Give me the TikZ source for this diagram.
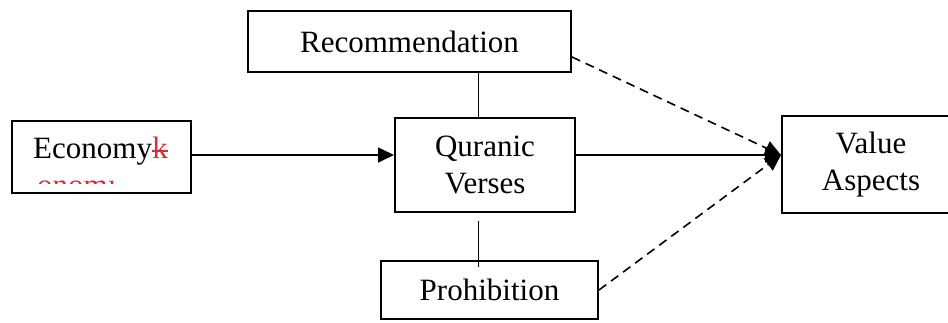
\documentclass[tikz,border=0pt]{standalone}
\usepackage{fontspec}
\setmainfont{Liberation Serif}
\usetikzlibrary{arrows.meta,calc}
\definecolor{wordred}{RGB}{215,45,55}
\begin{document}
\begin{tikzpicture}[x=1pt,y=-1pt,
  font=\fontsize{31pt}{37pt}\selectfont,
  box/.style={draw,line width=2pt,inner sep=0pt,align=center},
  solidarrow/.style={line width=1.6pt,-{Triangle[length=16pt,width=15pt]}},
  dasharrow/.style={line width=1.6pt,dash pattern=on 9pt off 6pt,-{Triangle[length=16pt,width=15pt]}},
  thinline/.style={line width=1pt}]
\useasboundingbox (0,0) rectangle (948,322);
\fill[white] (0,0) rectangle (948,322);
\clip (0,0) rectangle (948,322);
% boxes
\node[box,minimum width=323pt,minimum height=61pt] (rec) at (409.5,41.5) {Recommendation};
\node[box,minimum width=179pt,minimum height=72pt] (eco) at (101.5,157) {};
\node[box,minimum width=180pt,minimum height=94pt] (qv) at (485,165) {Quranic\\Verses};
\node[box,minimum width=178pt,minimum height=97pt] (va) at (871,164.5) {Value\\Aspects};
\node[box,minimum width=217pt,minimum height=58pt] (pro) at (489.5,290) {Prohibition};
% Economy text
\node[anchor=base west,inner sep=0pt] (ecotext) at (33,158) {Economy};
\node[anchor=base west,inner sep=0pt,text=wordred] (ecok) at (ecotext.base east) {k};
\draw[wordred,line width=1.2pt] ([yshift=7pt]ecok.base west) -- ([yshift=7pt]ecok.base east);
\begin{scope}
  \clip (30,179.5) rectangle (185,183.5);
  \node[anchor=base west,inner sep=0pt,text=wordred] (onomi) at (37,195.5) {onomi};
\end{scope}
% connectors
\coordinate (tip) at ([yshift=9.5pt]va.west);
\draw[solidarrow] ([yshift=2pt]eco.east) -- ([yshift=10pt]qv.west);
\draw[solidarrow] ([yshift=10pt]qv.east) -- (tip);
\draw[dasharrow] ([yshift=-15.5pt]rec.east) -- (tip);
\draw[dasharrow] (pro.east) -- (tip);
\draw[thinline] ([xshift=-7pt]qv.north) -- ([xshift=-7pt]qv.north |- rec.south);
\coordinate (vtop) at ($(qv.south)+(-7,8)$);
\coordinate (vbot) at ($(pro.north)+(-11.5,7)$);
\draw[thinline] (vtop) -- (vtop |- vbot);
\end{tikzpicture}
\end{document}
